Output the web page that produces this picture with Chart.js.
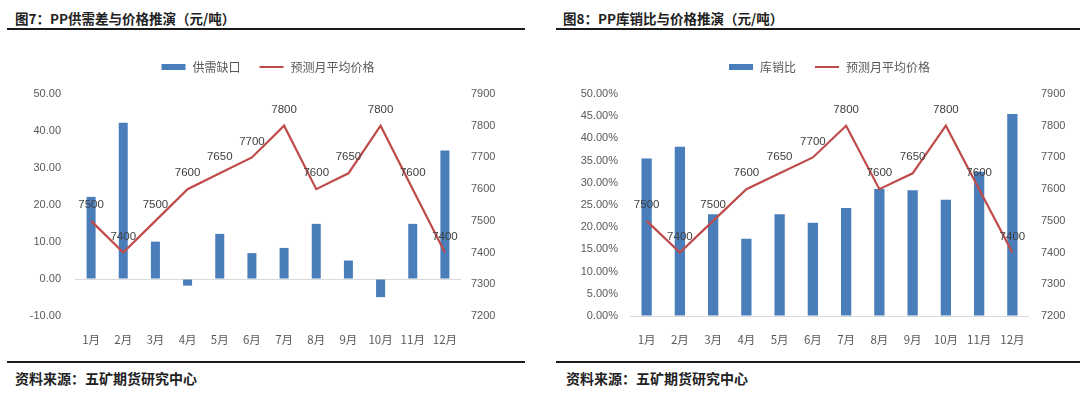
<!DOCTYPE html>
<html>
<head>
<meta charset="utf-8">
<script src="https://cdn.jsdelivr.net/npm/chart.js@4/dist/chart.umd.min.js"></script>
<style>
  body { margin: 0; background: #fff; width: 1080px; height: 397px; position: relative; overflow: hidden; font-family: "Noto Sans CJK SC", sans-serif; }
  .title { position: absolute; top: 8px; font-size: 13.5px; font-weight: bold; color: #222; white-space: nowrap; }
  .source { position: absolute; top: 368px; font-size: 14px; font-weight: bold; color: #222; white-space: nowrap; }
  .rule { position: absolute; height: 2px; background: #1a1a1a; }
  .box { position: absolute; top: 40px; width: 540px; height: 310px; }
</style>
</head>
<body>
<div class="title" style="left:15px">图7：PP供需差与价格推演（元/吨）</div>
<div class="title" style="left:563px">图8：PP库销比与价格推演（元/吨）</div>
<div class="rule" style="left:7px;width:518px;top:28px"></div>
<div class="rule" style="left:556px;width:524px;top:28px"></div>

<div class="box" style="left:0px"><canvas id="chart1" width="540" height="310"></canvas></div>
<div class="box" style="left:540px"><canvas id="chart2" width="540" height="310"></canvas></div>

<div class="rule" style="left:7px;width:518px;top:361px"></div>
<div class="rule" style="left:556px;width:524px;top:361px"></div>
<div class="source" style="left:15px">资料来源：五矿期货研究中心</div>
<div class="source" style="left:566px">资料来源：五矿期货研究中心</div>

<script>
const months = ["1月", "2月", "3月", "4月", "5月", "6月", "7月", "8月", "9月", "10月", "11月", "12月"];
const supplyGap = [22.2, 42.2, 10.1, -1.8, 12.2, 7.0, 8.4, 14.9, 5.0, -4.9, 14.9, 34.7];
const stockSalesRatio = [0.355, 0.381, 0.229, 0.174, 0.229, 0.210, 0.243, 0.286, 0.283, 0.262, 0.325, 0.455];
const priceForecast = [7500, 7400, 7500, 7600, 7650, 7700, 7800, 7600, 7650, 7800, 7600, 7400];

const BAR_COLOR = "#4a7ebb";
const LINE_COLOR = "#be4b48";
const TICK_COLOR = "#595959";

// legend drawn by hand so box sizes match the original (wide flat box + short line)
const legendPlugin = {
  id: "flatLegend",
  afterDraw(chart) {
    const ctx = chart.ctx;
    const area = chart.chartArea;
    const y = 27;
    ctx.save();
    ctx.font = "12px 'Noto Sans CJK SC'";
    ctx.textBaseline = "middle";
    const items = chart.data.datasets.map((ds) => ({
      label: ds.label,
      type: ds.type,
      color: ds.type === "line" ? ds.borderColor : ds.backgroundColor,
      w: ctx.measureText(ds.label).width,
    }));
    const swatch = 24, gap = 7, spacing = 19;
    let total = 0;
    items.forEach((it, i) => { total += swatch + gap + it.w + (i > 0 ? spacing : 0); });
    let x = (area.left + area.right) / 2 - total / 2;
    items.forEach((it) => {
      if (it.type === "line") {
        ctx.strokeStyle = it.color;
        ctx.lineWidth = 2;
        ctx.beginPath();
        ctx.moveTo(x, y);
        ctx.lineTo(x + swatch, y);
        ctx.stroke();
      } else {
        ctx.fillStyle = it.color;
        ctx.fillRect(x, y - 3, swatch, 6);
      }
      ctx.fillStyle = TICK_COLOR;
      ctx.fillText(it.label, x + swatch + gap, y);
      x += swatch + gap + it.w + spacing;
    });
    ctx.restore();
  },
};

// price labels above each point of the line
const priceLabels = {
  id: "priceLabels",
  afterDatasetsDraw(chart) {
    const ctx = chart.ctx;
    chart.data.datasets.forEach((ds, i) => {
      if (ds.type !== "line") return;
      const meta = chart.getDatasetMeta(i);
      ctx.save();
      ctx.font = "11.5px 'Liberation Sans'";
      ctx.fillStyle = "#404040";
      ctx.textAlign = "center";
      ctx.textBaseline = "middle";
      meta.data.forEach((pt, j) => {
        ctx.fillText(ds.data[j], pt.x, pt.y - 16);
      });
      ctx.restore();
    });
  },
};

function makeChart(id, barLabel, barData, opts) {
  return new Chart(document.getElementById(id), {
    data: {
      labels: months,
      datasets: [
        {
          type: "bar",
          label: barLabel,
          data: barData,
          backgroundColor: BAR_COLOR,
          barPercentage: 1,
          categoryPercentage: opts.barFrac,
          yAxisID: "y",
          order: 1,
        },
        {
          type: "line",
          label: "预测月平均价格",
          data: priceForecast,
          borderColor: LINE_COLOR,
          borderWidth: 2.2,
          pointRadius: 0,
          tension: 0,
          yAxisID: "y1",
          order: 0,
        },
      ],
    },
    options: {
      responsive: false,
      animation: false,
      layout: { padding: { top: 54, bottom: 0, left: 0, right: 0 } },
      plugins: { legend: { display: false }, tooltip: { enabled: false } },
      scales: {
        x: {
          grid: { display: false },
          border: { display: false },
          ticks: { color: TICK_COLOR, font: { size: 11.5, family: "'Noto Sans CJK SC'" }, padding: 9, maxRotation: 0 },
          afterFit(scale) { scale.height = 34; },
        },
        y: {
          position: "left",
          min: opts.yMin,
          max: opts.yMax,
          border: { display: false },
          grid: {
            drawTicks: false,
            color: (c) => (c.tick && c.tick.value === 0 ? "#d9d9d9" : "rgba(0,0,0,0)"),
          },
          ticks: {
            stepSize: opts.yStep,
            color: TICK_COLOR,
            font: { size: 11, family: "'Liberation Sans'" },
            padding: opts.leftPad,
            callback: opts.yFormat,
          },
          afterFit(scale) { scale.width = opts.leftWidth; },
        },
        y1: {
          position: "right",
          min: 7200,
          max: 7900,
          border: { display: false },
          grid: { display: false, drawTicks: false },
          ticks: {
            stepSize: 100,
            color: TICK_COLOR,
            font: { size: 11, family: "'Liberation Sans'" },
            padding: opts.rightPad,
            callback: (v) => String(v),
          },
          afterFit(scale) { scale.width = opts.rightWidth; },
        },
      },
    },
    plugins: [legendPlugin, priceLabels],
  });
}

makeChart("chart1", "供需缺口", supplyGap, {
  yMin: -10, yMax: 50, yStep: 10,
  yFormat: (v) => v.toFixed(2),
  leftWidth: 75, rightWidth: 79, leftPad: 14, rightPad: 10,
  barFrac: 0.28,
});

makeChart("chart2", "库销比", stockSalesRatio, {
  yMin: 0, yMax: 0.5, yStep: 0.05,
  yFormat: (v) => (v * 100).toFixed(2) + "%",
  leftWidth: 90, rightWidth: 51, leftPad: 12, rightPad: 12,
  barFrac: 0.31,
});
</script>
</body>
</html>
